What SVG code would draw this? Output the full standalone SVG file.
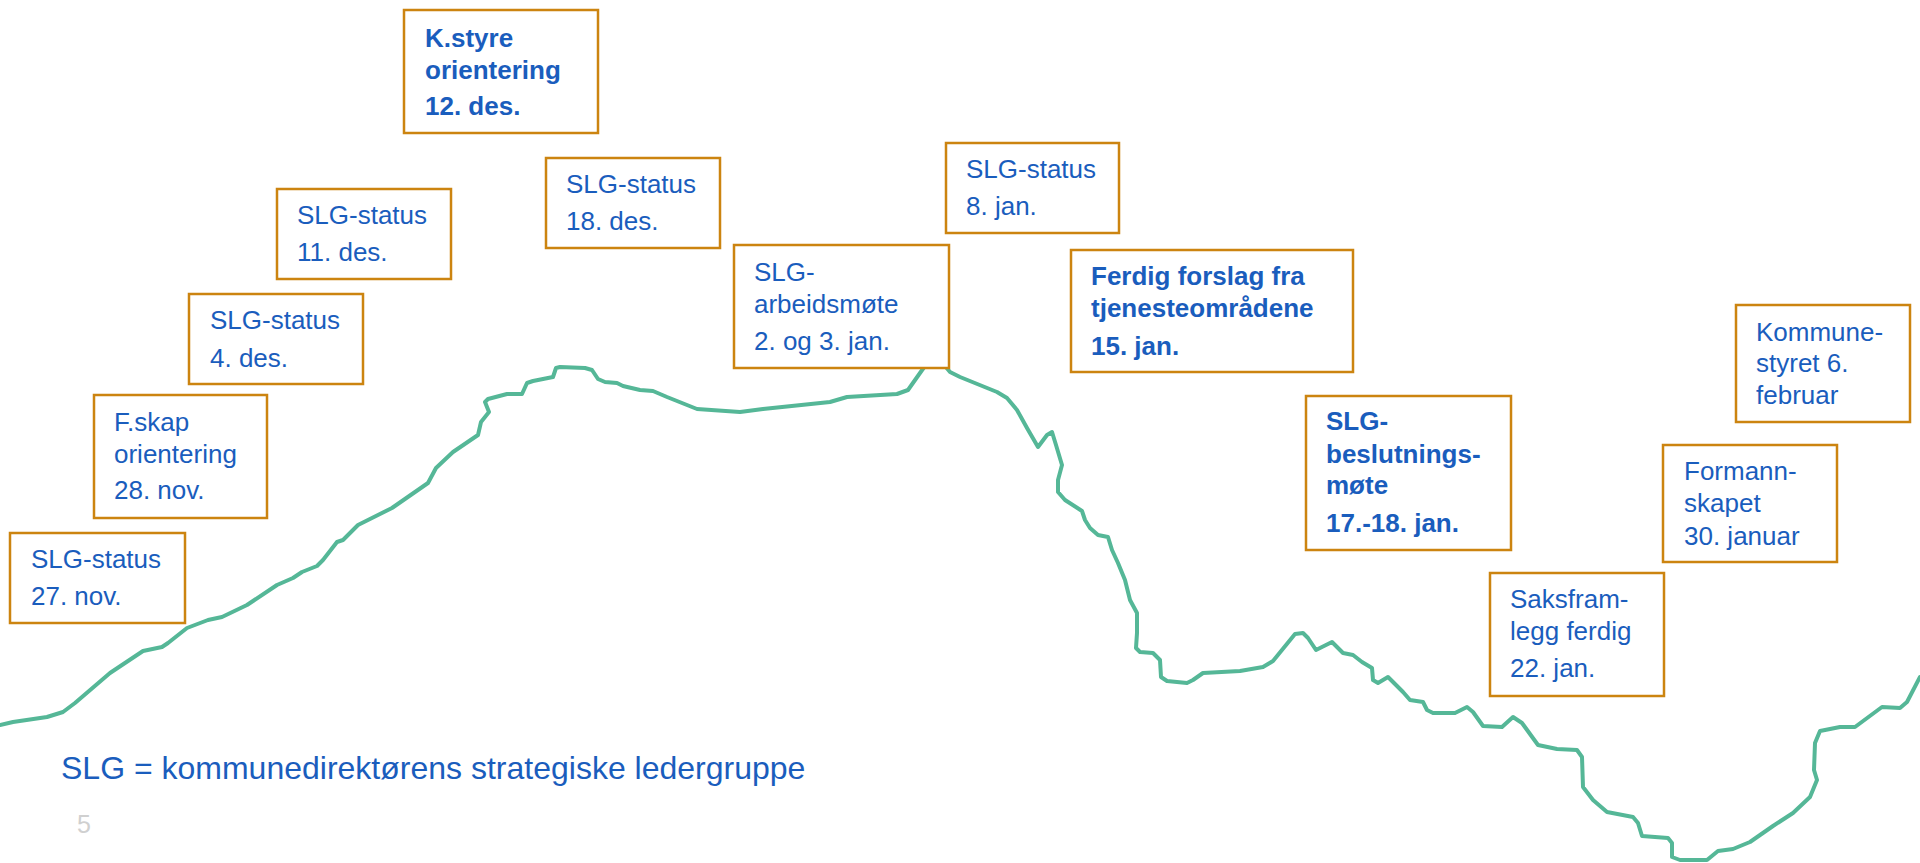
<svg xmlns="http://www.w3.org/2000/svg" width="1920" height="863" viewBox="0 0 1920 863">
<style>
.box{fill:#ffffff;stroke:#CC8410;stroke-width:2.5}
.t{font-family:"Liberation Sans",Arial,sans-serif;font-size:26px;fill:#1A5DBD}
.b{font-weight:bold}
.curve{fill:none;stroke:#55B797;stroke-width:4;stroke-linejoin:round;stroke-linecap:round}
</style>
<g id="connectors">
<polyline class="curve" points="0,725 13,722 47,717 63,712 75,703 110,673 143,651 162,647 168,643 187,628 208,620 222,617 247,605 277,585 293,578 302,572 317,566 323,560 337,542 343,540 358,525 392,508 428,483 436,468 453,452 478,435 481,422 489,412 485,402 488,399 507,394 522,394 527,383 533,381 553,377 556,368 560,367 585,368 592,370 598,379 605,382 617,383 623,386 640,390 653,391 667,397 677,401 697,409 740,412 763,409 830,402 847,397 897,394 908,390 920,373 930,359 935,357 940,360 950,372 960,377 997,392 1007,398 1017,410 1027,428 1038,447 1047,435 1052,432 1056,445 1062,465 1058,480 1058,492 1065,500 1082,511 1085,520 1090,528 1098,535 1108,537 1112,550 1118,563 1125,580 1130,600 1137,613 1137,633 1136,648 1140,652 1153,653 1160,660 1161,677 1167,681 1187,683 1193,680 1203,673 1240,671 1263,667 1273,661 1295,634 1303,633 1308,638 1316,650 1322,647 1332,642 1343,653 1353,655 1362,662 1372,668 1373,680 1378,683 1388,677 1403,692 1410,700 1423,702 1427,710 1433,713 1455,713 1467,707 1473,712 1483,726 1502,727 1513,717 1522,723 1538,745 1557,749 1577,750 1582,757 1583,787 1593,800 1607,812 1633,817 1638,823 1642,836 1668,838 1672,843 1672,857 1680,860 1707,860 1718,851 1733,849 1750,842 1773,826 1793,813 1810,797 1817,780 1814,770 1815,743 1820,731 1840,727 1855,727 1882,707 1900,708 1907,702 1920,677"/>
</g>
<g id="n_kstyre">
<rect class="box" x="404" y="10" width="194" height="123"/>
<text class="t b" x="425" y="47">K.styre</text>
<text class="t b" x="425" y="79">orientering</text>
<text class="t b" x="425" y="115">12. des.</text>
</g>
<g id="n_slg11des">
<rect class="box" x="277" y="189" width="174" height="90"/>
<text class="t" x="297" y="224">SLG-status</text>
<text class="t" x="297" y="261">11. des.</text>
</g>
<g id="n_slg18des">
<rect class="box" x="546" y="158" width="174" height="90"/>
<text class="t" x="566" y="193">SLG-status</text>
<text class="t" x="566" y="230">18. des.</text>
</g>
<g id="n_slg4des">
<rect class="box" x="189" y="294" width="174" height="90"/>
<text class="t" x="210" y="329">SLG-status</text>
<text class="t" x="210" y="367">4. des.</text>
</g>
<g id="n_fskap">
<rect class="box" x="94" y="395" width="173" height="123"/>
<text class="t" x="114" y="431">F.skap</text>
<text class="t" x="114" y="463">orientering</text>
<text class="t" x="114" y="499">28. nov.</text>
</g>
<g id="n_slg27nov">
<rect class="box" x="10" y="533" width="175" height="90"/>
<text class="t" x="31" y="568">SLG-status</text>
<text class="t" x="31" y="605">27. nov.</text>
</g>
<g id="n_slg8jan">
<rect class="box" x="946" y="143" width="173" height="90"/>
<text class="t" x="966" y="178">SLG-status</text>
<text class="t" x="966" y="215">8. jan.</text>
</g>
<g id="n_arbeid">
<rect class="box" x="734" y="245" width="215" height="123"/>
<text class="t" x="754" y="281">SLG-</text>
<text class="t" x="754" y="313">arbeidsmøte</text>
<text class="t" x="754" y="350">2. og 3. jan.</text>
</g>
<g id="n_ferdig">
<rect class="box" x="1071" y="250" width="282" height="122"/>
<text class="t b" x="1091" y="285">Ferdig forslag fra</text>
<text class="t b" x="1091" y="317">tjenesteområdene</text>
<text class="t b" x="1091" y="355">15. jan.</text>
</g>
<g id="n_beslutning">
<rect class="box" x="1306" y="396" width="205" height="154"/>
<text class="t b" x="1326" y="430">SLG-</text>
<text class="t b" x="1326" y="463">beslutnings-</text>
<text class="t b" x="1326" y="494">møte</text>
<text class="t b" x="1326" y="532">17.-18. jan.</text>
</g>
<g id="n_saksframlegg">
<rect class="box" x="1490" y="573" width="174" height="123"/>
<text class="t" x="1510" y="608">Saksfram-</text>
<text class="t" x="1510" y="640">legg ferdig</text>
<text class="t" x="1510" y="677">22. jan.</text>
</g>
<g id="n_formann">
<rect class="box" x="1663" y="445" width="174" height="117"/>
<text class="t" x="1684" y="480">Formann-</text>
<text class="t" x="1684" y="512">skapet</text>
<text class="t" x="1684" y="545">30. januar</text>
</g>
<g id="n_kommune">
<rect class="box" x="1736" y="305" width="174" height="117"/>
<text class="t" x="1756" y="341">Kommune-</text>
<text class="t" x="1756" y="372">styret 6.</text>
<text class="t" x="1756" y="404">februar</text>
</g>
<text class="t" x="61" y="779" style="font-size:32px">SLG = kommunedirektørens strategiske ledergruppe</text>
<text x="77" y="833" style="font-family:'Liberation Sans',Arial,sans-serif;font-size:25px;fill:#D0D0D0">5</text>
</svg>
